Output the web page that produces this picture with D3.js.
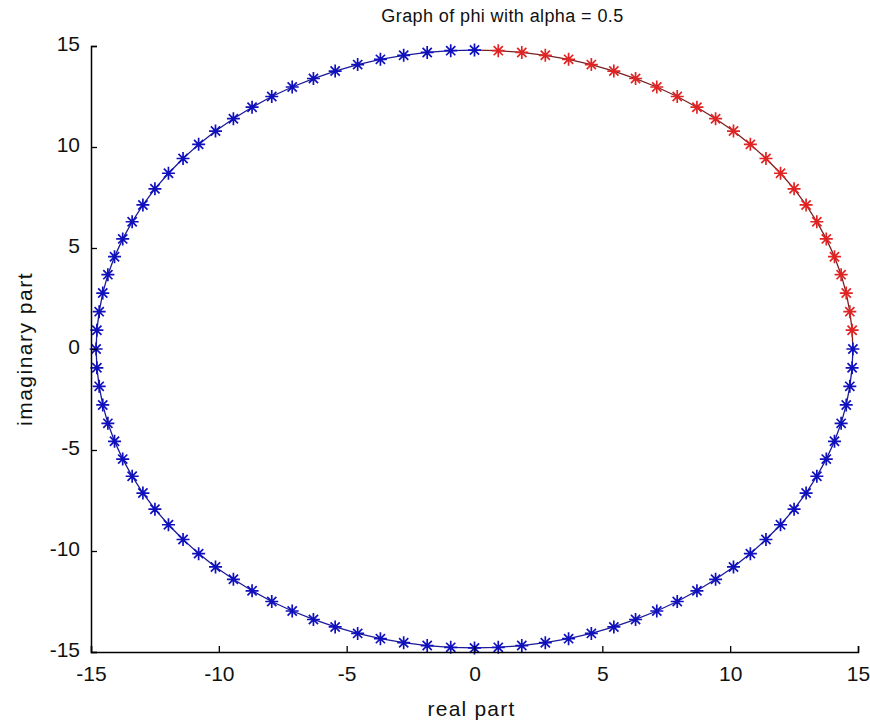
<!DOCTYPE html>
<html>
<head>
<meta charset="utf-8">
<script src="https://cdn.jsdelivr.net/npm/d3@7"></script>
<style>
  body { margin: 0; background: #fff; }
  text { font-family: "Liberation Sans", Arial, sans-serif; fill: #111; }
</style>
</head>
<body>
<script>
var width = 870,
    height = 724,
    margin = { top: 46, right: 12, bottom: 71, left: 91 };

// tick values on both axes
var xTicks = [-15, -10, -5, 0, 5, 10, 15];
var yTicks = [-15, -10, -5, 0, 5, 10, 15];

// red arc (first quadrant, open ends)
var redRe = [14.77, 14.68, 14.54, 14.34, 14.08, 13.76, 13.39, 12.97, 12.50, 11.97, 11.40, 10.79,
             10.13, 9.43, 8.70, 7.93, 7.13, 6.30, 5.45, 4.57, 3.68, 2.77, 1.85, 0.93];
var redIm = [0.93, 1.85, 2.77, 3.68, 4.57, 5.45, 6.30, 7.13, 7.93, 8.70, 9.43, 10.13,
             10.79, 11.40, 11.97, 12.50, 12.97, 13.39, 13.76, 14.08, 14.34, 14.54, 14.68, 14.77];

// blue arc, from the top going counter-clockwise round to the right end
var blueRe = [0, -0.93, -1.85, -2.77, -3.68, -4.57, -5.45, -6.30, -7.13, -7.93, -8.70, -9.43, -10.13,
              -10.79, -11.40, -11.97, -12.50, -12.97, -13.39, -13.76, -14.08, -14.34, -14.54, -14.68, -14.77, -14.80,
              -14.77, -14.68, -14.54, -14.34, -14.08, -13.76, -13.39, -12.97, -12.50, -11.97, -11.40, -10.79,
              -10.13, -9.43, -8.70, -7.93, -7.13, -6.30, -5.45, -4.57, -3.68, -2.77, -1.85, -0.93, 0,
              0.93, 1.85, 2.77, 3.68, 4.57, 5.45, 6.30, 7.13, 7.93, 8.70, 9.43, 10.13, 10.79, 11.40,
              11.97, 12.50, 12.97, 13.39, 13.76, 14.08, 14.34, 14.54, 14.68, 14.77, 14.80];
var blueIm = [14.80, 14.77, 14.68, 14.54, 14.34, 14.08, 13.76, 13.39, 12.97, 12.50, 11.97, 11.40, 10.79,
              10.13, 9.43, 8.70, 7.93, 7.13, 6.30, 5.45, 4.57, 3.68, 2.77, 1.85, 0.93, 0,
              -0.93, -1.85, -2.77, -3.68, -4.57, -5.45, -6.30, -7.13, -7.93, -8.70, -9.43, -10.13,
              -10.79, -11.40, -11.97, -12.50, -12.97, -13.39, -13.76, -14.08, -14.34, -14.54, -14.68, -14.77, -14.80,
              -14.77, -14.68, -14.54, -14.34, -14.08, -13.76, -13.39, -12.97, -12.50, -11.97, -11.40, -10.79, -10.13,
              -9.43, -8.70, -7.93, -7.13, -6.30, -5.45, -4.57, -3.68, -2.77, -1.85, -0.93, 0];

var svg = d3.select('body').append('svg')
    .attr('width', width)
    .attr('height', height);

var w = width - margin.left - margin.right,
    h = height - margin.top - margin.bottom;

var xScale = d3.scaleLinear().domain([-15, 15]).range([0, 767]),
    yScale = d3.scaleLinear().domain([-15, 15]).range([h - 1, 0]);

var g = svg.append('g')
    .attr('transform', 'translate(' + margin.left + ',' + margin.top + ')');

var blue = d3.range(blueRe.length).map(function(i) { return [blueRe[i], blueIm[i]]; });
var red = d3.range(redRe.length).map(function(i) { return [redRe[i], redIm[i]]; });

// red line joins the two blue end points
var redLine = [blue[blue.length - 1]].concat(red, [blue[0]]);

var line = d3.line()
    .x(function(d) { return xScale(d[0]); })
    .y(function(d) { return yScale(d[1]); });

g.append('path').datum(blue)
    .attr('d', line)
    .attr('fill', 'none')
    .attr('stroke', '#1a1a9a')
    .attr('stroke-width', 1.3);

g.append('path').datum(redLine)
    .attr('d', line)
    .attr('fill', 'none')
    .attr('stroke', '#7a2020')
    .attr('stroke-width', 1.3);

// asterisk markers
var star = 'M-6.5,0H6.5M0,-6.5V6.5M-4.6,-4.6L4.6,4.6M-4.6,4.6L4.6,-4.6';

function markers(data, color) {
  g.append('g').selectAll('path')
    .data(data)
    .enter().append('path')
    .attr('transform', function(d) { return 'translate(' + xScale(d[0]) + ',' + yScale(d[1]) + ')'; })
    .attr('d', star)
    .attr('stroke', color)
    .attr('stroke-width', 1.7)
    .attr('fill', 'none');
}
markers(blue, '#1010bc');
markers(red, '#e02424');

// plain hyphen for negatives, like the original
var fmt = function(d) { return String(d); };

// axes, MATLAB style: ticks point inward, no box
var xAxis = g.append('g')
    .attr('transform', 'translate(0,' + (h - 1) + ')')
    .call(d3.axisTop(xScale).tickValues(xTicks).tickSize(6).tickFormat(fmt));
xAxis.select('.domain').attr('stroke', '#000').attr('stroke-width', 1.5);
xAxis.selectAll('.tick line').attr('stroke', '#000').attr('stroke-width', 1.3);
xAxis.selectAll('text')
    .attr('y', 29)
    .attr('dy', 0)
    .attr('font-size', 21)
    .attr('font-family', '"Liberation Sans", Arial, sans-serif');

var yAxis = g.append('g')
    .call(d3.axisRight(yScale).tickValues(yTicks).tickSize(6).tickFormat(fmt));
yAxis.select('.domain').attr('stroke', '#000').attr('stroke-width', 1.5);
yAxis.selectAll('.tick line').attr('stroke', '#000').attr('stroke-width', 1.3);
yAxis.selectAll('text')
    .attr('x', -11)
    .attr('dy', '0.22em')
    .attr('text-anchor', 'end')
    .attr('font-size', 21)
    .attr('font-family', '"Liberation Sans", Arial, sans-serif');

// title and axis labels
svg.append('text')
    .attr('x', margin.left + xScale(0) + 28)
    .attr('y', 22)
    .attr('text-anchor', 'middle')
    .attr('font-size', 18)
    .attr('letter-spacing', 0.4)
    .text('Graph of phi with alpha = 0.5');

svg.append('text')
    .attr('x', margin.left + xScale(0) - 3)
    .attr('y', 716)
    .attr('text-anchor', 'middle')
    .attr('font-size', 21)
    .attr('letter-spacing', 1.2)
    .text('real part');

svg.append('text')
    .attr('transform', 'translate(32,' + (margin.top + yScale(0)) + ') rotate(-90)')
    .attr('text-anchor', 'middle')
    .attr('font-size', 21)
    .attr('letter-spacing', 1.5)
    .text('imaginary part');
</script>
</body>
</html>
